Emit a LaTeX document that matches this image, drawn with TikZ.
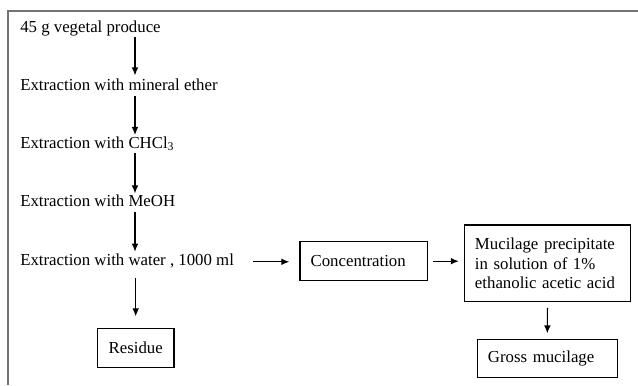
\documentclass[tikz,border=0pt]{standalone}
\usepackage{fontspec}
\setmainfont{Liberation Serif}
\usetikzlibrary{arrows.meta, positioning}
\tikzset{stage/.style={inner sep=0pt,anchor=base west,text height=8.3pt,text depth=3.5pt},box/.style={rectangle,draw,line width=0.9pt,align=left,inner xsep=8pt,inner ysep=3pt},line/.style={-{Latex[length=6pt,width=5pt]},line width=0.8pt},frame/.style={draw=black!55,line width=1.4pt}}

\begin{document}
\begin{tikzpicture}[x=0.75pt,y=-0.75pt,font=\fontsize{12.6}{14.5}\selectfont]
\useasboundingbox (0,0) rectangle (638,385);
\draw[frame] (638,10.7) -- (8.3,10.7) -- (8.3,385);
\coordinate (axis) at (135,0);
\node[stage] (produce) at (20,32.3) {45 g vegetal produce};
\node[stage] (ether) at (20,90.7) {Extraction with mineral ether};
\node[stage] (chcl) at (20,148.3) {Extraction with CHCl\textsubscript{3}};
\node[stage] (meoh) at (20,206.7) {Extraction with MeOH};
\node[stage] (water) at (20,265) {Extraction with water , 1000 ml};
\node[box, align=center, text width=41.5pt, minimum height=29.3pt] (residue) at (135.7,347.8) {Residue};
\node[box, text width=79.8pt, minimum height=29.3pt] (conc) at (363.8,261.2) {Concentration};
\node[box, text width=108.8pt, minimum height=57.5pt] (muc) at (547.5,263.3) {Mucilage precipitate\\in solution of 1\%\\ethanolic acetic acid};
\node[box, text width=89pt, minimum height=28.5pt] (gross) at (547.3,358.3) {Gross mucilage};
\draw[line,shorten >=3pt] (produce.south -| axis) -- (ether.north -| axis);
\draw[line,shorten >=1.5pt] (ether.south -| axis) -- (chcl.north -| axis);
\draw[line,shorten >=1.5pt] (chcl.south -| axis) -- (meoh.north -| axis);
\draw[line,shorten >=1.5pt] (meoh.south -| axis) -- (water.north -| axis);
\draw[line,shorten <=6pt,shorten >=8.5pt] (water.south -| residue.north) -- (residue.north);
\draw[line,shorten <=14pt,shorten >=7.5pt] (water.east) -- (water.east -| conc.west);
\draw[line,shorten <=3.7pt,shorten >=3.7pt] (conc.east) -- (conc.east -| muc.west);
\draw[line,shorten <=4.2pt,shorten >=4pt] (muc.south) -- (gross.north);
\end{tikzpicture}
\end{document}
